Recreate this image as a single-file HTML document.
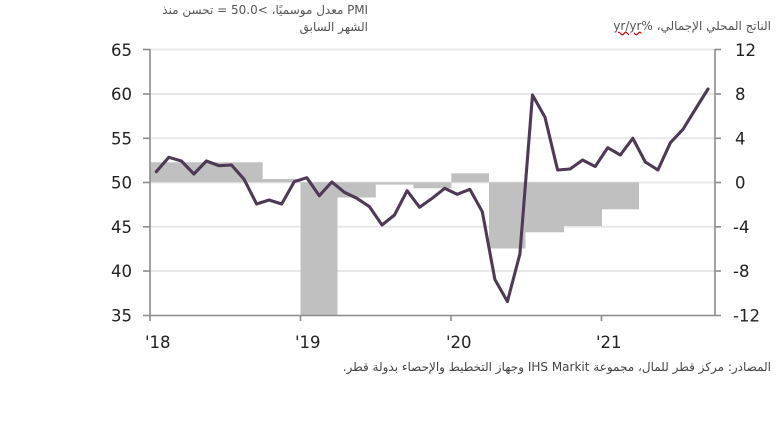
<!DOCTYPE html>
<html><head><meta charset="utf-8"><style>
html,body{margin:0;padding:0;background:#fff;}
body{width:780px;height:444px;overflow:hidden;position:relative;font-family:"DejaVu Sans","Liberation Sans",sans-serif;}
.t{position:absolute;font-size:12px;color:#555;white-space:nowrap;direction:rtl;font-family:"DejaVu Sans","Liberation Sans",sans-serif;}
</style></head><body>
<div class="t" style="right:412px;top:3px;letter-spacing:-0.1px;">PMI معدل موسميًا، &gt;50.0 = تحسن منذ</div>
<div class="t" style="right:412px;top:20px;">الشهر السابق</div>
<div class="t" style="right:9px;top:19px;">الناتج المحلي الإجمالي، %<span style="text-decoration:underline wavy #d00;">yr/yr</span></div>
<div class="t" style="right:9px;top:360px;color:#444;">المصادر: مركز قطر للمال، مجموعة IHS Markit وجهاز التخطيط والإحصاء بدولة قطر.</div>
<svg width="780" height="444" style="position:absolute;left:0;top:0" xmlns="http://www.w3.org/2000/svg">
<g stroke="#e8e8e8" stroke-width="2">
<line x1="150" y1="49.5" x2="715" y2="49.5"/>
<line x1="150" y1="94" x2="715" y2="94"/>
<line x1="150" y1="138.3" x2="715" y2="138.3"/>
<line x1="150" y1="182.5" x2="715" y2="182.5"/>
<line x1="150" y1="226.8" x2="715" y2="226.8"/>
<line x1="150" y1="271" x2="715" y2="271"/>
</g>
<g fill="#c0c0c0">
<rect x="150" y="162.3" width="112.7" height="20"/>
<rect x="262.7" y="179" width="37.8" height="3.3"/>
<rect x="300.5" y="182.3" width="37" height="133.2"/>
<rect x="337.5" y="182.3" width="38.3" height="15.2"/>
<rect x="375.8" y="182.3" width="37.5" height="2.3"/>
<rect x="413.3" y="182.3" width="38.2" height="6"/>
<rect x="451.3" y="173.3" width="37.7" height="9"/>
<rect x="489" y="182.3" width="36.5" height="66.2"/>
<rect x="525.5" y="182.3" width="38.5" height="50"/>
<rect x="564" y="182.3" width="38" height="43.7"/>
<rect x="602" y="182.3" width="37" height="27"/>
</g>
<g stroke="#8c8c8c" stroke-width="1.6" fill="none">
<line x1="150" y1="49" x2="150" y2="316"/>
<line x1="715" y1="49" x2="715" y2="316"/>
<line x1="143" y1="315.5" x2="721" y2="315.5"/>
<line x1="143" y1="49.5" x2="150" y2="49.5"/>
<line x1="143" y1="94" x2="150" y2="94"/>
<line x1="143" y1="138.3" x2="150" y2="138.3"/>
<line x1="143" y1="182.5" x2="150" y2="182.5"/>
<line x1="143" y1="226.8" x2="150" y2="226.8"/>
<line x1="143" y1="271" x2="150" y2="271"/>
<line x1="715" y1="49.5" x2="721" y2="49.5"/>
<line x1="715" y1="94" x2="721" y2="94"/>
<line x1="715" y1="138.3" x2="721" y2="138.3"/>
<line x1="715" y1="182.5" x2="721" y2="182.5"/>
<line x1="715" y1="226.8" x2="721" y2="226.8"/>
<line x1="715" y1="271" x2="721" y2="271"/>
<line x1="150" y1="315.5" x2="150" y2="321"/>
<line x1="300.5" y1="315.5" x2="300.5" y2="321"/>
<line x1="451" y1="315.5" x2="451" y2="321"/>
<line x1="601.5" y1="315.5" x2="601.5" y2="321"/>
</g>
<polyline fill="none" stroke="#4f3a56" stroke-width="3.1" stroke-linejoin="round" stroke-linecap="round" points="
156.3,171.7 168.8,157.3 181.4,161 193.9,174 206.4,161 219,165.7 231.5,165 244.1,179.3 256.6,204 269.1,200 281.7,204 294.2,181.7
306.8,177.7 319.3,195.7 331.8,182 344.4,192.3 356.9,198.3 369.5,206.7 382,225 394.5,215 407.1,190.7 419.6,207.3 432.2,198.3 444.7,188.3
457.2,194.3 469.8,189.3 482.3,211.7 494.9,279.5 507.4,301.5 519.9,254 532.5,95 545,117.3 557.6,170 570.1,169 582.6,160 595.2,166.5
607.7,147.7 620.3,155 632.8,138.3 645.3,162 657.9,170 670.4,142.7 683,129.3 695.5,109 708,89"/>
<g font-family="DejaVu Sans, Liberation Sans, sans-serif" font-size="16.5" fill="#222">
<g text-anchor="end">
<text x="132" y="56">65</text>
<text x="132" y="100">60</text>
<text x="132" y="144.5">55</text>
<text x="132" y="188.5">50</text>
<text x="132" y="233">45</text>
<text x="132" y="277">40</text>
<text x="132" y="321.5">35</text>
</g>
<text x="735" y="56">12</text>
<text x="735" y="100">8</text>
<text x="735" y="144.5">4</text>
<text x="735" y="188.5">0</text>
<text x="733" y="233">-4</text>
<text x="733" y="277">-8</text>
<text x="733" y="321.5">-12</text>
<text x="145" y="348">'18</text>
<text x="295" y="348">'19</text>
<text x="446" y="348">'20</text>
<text x="596" y="348">'21</text>
</g>
</svg>
</body></html>
